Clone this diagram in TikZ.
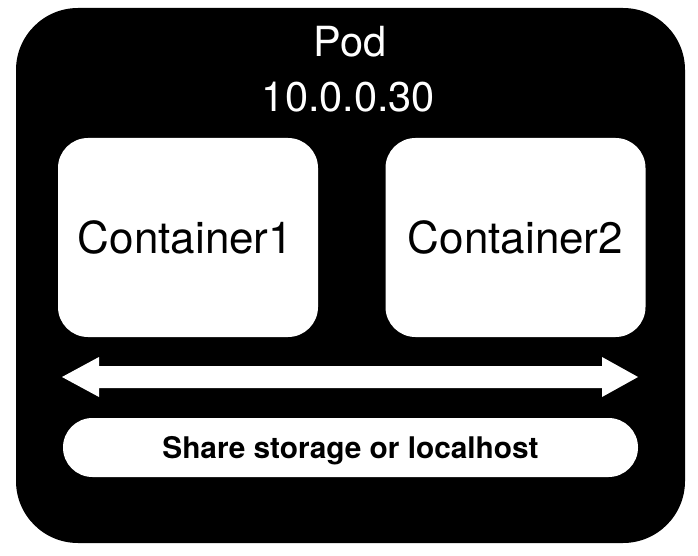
\documentclass[tikz,border=0pt]{standalone}
\usepackage{fontspec}
\setmainfont{TeX Gyre Heros}
\usetikzlibrary{positioning,calc}

\begin{document}
\begin{tikzpicture}[x=1pt, y=-1pt,
	box/.style={fill=white, rounded corners=30pt, inner sep=0pt, minimum width=260pt, minimum height=199pt, font=\fontsize{44}{50}\selectfont},
	bar/.style={fill=white, rounded corners=29.5pt, inner sep=0pt, minimum width=575pt, minimum height=59pt, text depth=0pt, font=\fontsize{29.8}{34}\selectfont\bfseries},
	podtext/.style={white, anchor=base, inner sep=0pt, font=\fontsize{41.5}{46}\selectfont}]
	\useasboundingbox (0,0) rectangle (698,556);
	%%
	\fill[black, rounded corners=62pt] (16,8) rectangle (685,543);
	\node[podtext] (pod) at (350,57) {Pod};
	\node[podtext] (ip) at (348.5,112) {10.0.0.30};
	%%
	\node[box] (c1) at (188,237.5) {\hspace*{-5pt}Container1};
	\node[box] (c2) at (515.5,237.5) {Container2};
	%%
	\node[bar] (share) at (350.5,447.5) {Share storage or localhost};
	%%
	\coordinate (tipL) at (62,377);
	\coordinate (tipR) at (638,377);
	\fill[white] (tipL) -- ++(37,-20) -- ++(0,9) -- ($(tipR)+(-36,-11)$) -- ++(0,-9) -- (tipR)
		-- ++(-36,20) -- ++(0,-9) -- ($(tipL)+(37,11)$) -- ++(0,9) -- cycle;
\end{tikzpicture}
\end{document}
